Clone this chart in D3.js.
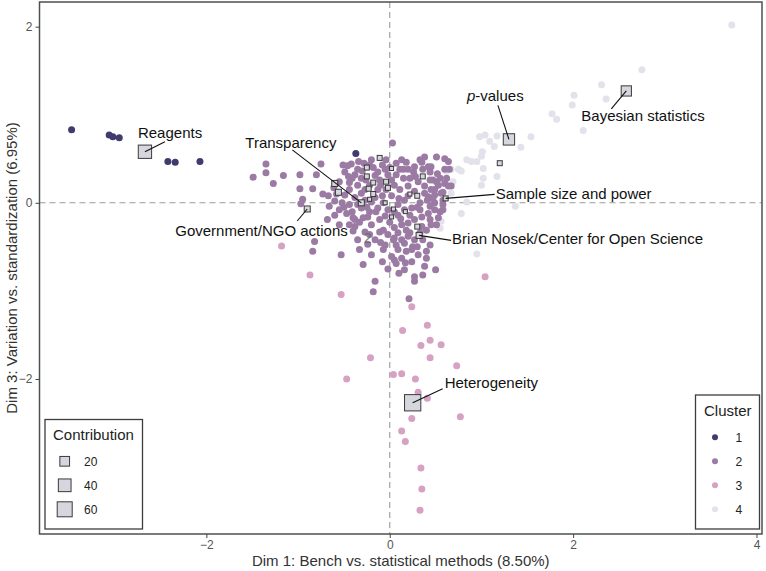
<!DOCTYPE html>
<html><head><meta charset="utf-8">
<script src="https://cdn.jsdelivr.net/npm/d3@7"></script>
<style>
body{margin:0;background:#fff;}
text{font-family:"Liberation Sans",Arial,Helvetica,sans-serif;}
</style>
</head><body>
<svg id="chart" width="766" height="571"></svg>
<script>
// ---------- DATA (Dim 1, Dim 3) ----------
const cluster1 = [[-3.47,0.83],[-3.06,0.77],[-3.02,0.75],[-2.95,0.74],[-2.42,0.47],[-2.34,0.46],[-2.07,0.47],[-0.37,0.56]];

const cluster2 = [
 [0.03,0.68],[-1.35,0.44],[-1.49,0.29],[-1.35,0.34],[-1.27,0.22],[-1.16,0.31],[-0.98,0.32],[-0.98,0.16],
 [-0.80,0.32],[-0.75,0.44],[-0.84,0.16],[-0.73,0.10],[-0.67,0.08],[-0.60,0.02],[-0.95,0.04],[-0.97,-0.01],
 [-0.66,-0.04],[-0.55,-0.08],[-0.47,-0.12],[-0.38,-0.19],[-0.44,-0.25],[-0.40,-0.17],[-0.29,-0.17],[-0.38,-0.27],
 [-0.82,-0.44],[-0.84,-0.55],[-0.53,-0.59],[-0.51,0.43],[-0.42,0.44],[-0.34,0.47],[-0.22,0.43],[-0.29,-0.70],
 [-0.16,-0.89],[-0.18,-1.01],[-0.07,-0.31],[0.04,-0.42],[0.07,-0.48],[0.16,-0.46],[0.25,-0.50],[0.22,-0.34],
 [0.40,-0.31],[0.51,-0.25],[0.44,-0.19],[-0.08,-0.67],[0.05,-0.65],[0.07,-0.69],[0.17,-0.68],[0.16,-0.76],
 [0.36,-0.82],[0.50,-0.76],[0.27,-0.89],[0.21,-1.09],
 [0.33,0.49],[0.42,0.41],[0.45,0.41],[0.60,0.50],[0.64,0.47],[0.60,0.38],[0.55,0.28],[0.47,0.26],
 [0.53,0.20],[0.64,0.19],[0.67,0.19],[0.56,0.11],[0.49,0.09],[0.42,0.07],[0.49,0.00],[0.58,-0.02],[0.44,-0.04],
 [0.07,0.45],[0.18,0.46],[0.27,0.41],[0.35,0.46],[0.44,0.26],[0.51,0.24],[0.60,0.22],[0.49,0.15],
 [0.38,0.11],[0.47,0.05],[0.58,-0.08],[0.49,-0.08],[0.42,-0.12],[0.35,-0.16],[0.53,-0.17],[0.27,-0.19],
 [0.20,-0.23],[0.13,-0.25],[0.35,-0.27],[0.18,-0.31],[0.09,-0.34],[0.20,-0.38],[0.27,-0.42],[0.13,-0.42],
 [0.09,-0.53],[-0.07,-0.53],[0.02,-0.61],[0.13,-0.63],[0.38,-0.72],[0.27,-0.84],
 [-0.49,0.35],[-0.41,0.28],[-0.35,0.38],[-0.28,0.45],[-0.20,0.49],[-0.04,0.49],[0.13,0.49],[0.26,0.35],
 [0.15,0.28],[0.07,0.32],[-0.13,0.35],[-0.35,0.20],[-0.44,0.15],[-0.49,0.09],[-0.38,0.06],[-0.31,0.11],
 [-0.16,0.31],[-0.08,0.08],[0.02,0.08],[0.11,0.15],[0.16,0.03],[0.09,-0.02],[-0.02,-0.08],[-0.13,-0.06],
 [-0.22,-0.10],[-0.31,-0.06],[-0.44,-0.02],[-0.11,-0.19],[-0.20,-0.25],[-0.27,-0.33],[-0.35,-0.42],[0.00,-0.22],
 [0.09,-0.14],[0.24,-0.06],[0.33,0.00],[0.38,0.19],[0.31,0.24],[0.20,0.19],[0.44,0.35],[-0.08,0.43],
 [-0.26,0.26],[-0.46,0.42],[-0.55,0.24],[-0.61,0.17],[-0.52,0.00],[-0.24,-0.47],[-0.16,-0.42],[-0.05,-0.48],
 [-0.33,-0.53],[-0.20,-0.59],[-0.11,0.26],[-0.02,0.32],[0.05,0.20],[0.22,-0.14],[0.33,-0.08],[0.41,0.03],
 [0.55,-0.10],[0.36,-0.42],[0.44,-0.48],[0.31,-0.59],[0.24,-0.67],[0.40,-0.63],[-0.02,-0.36],[-0.16,0.06],
 [-0.27,0.03],[-0.41,-0.10],[-0.33,-0.22],[-0.24,-0.16],[-0.55,-0.25],[-0.60,-0.14],[-0.68,-0.19],[0.38,0.52],
 [0.51,0.52],[0.65,0.38],[0.58,0.03],
 [-0.38,0.32],[-0.31,0.28],[-0.22,0.20],[-0.13,0.15],[-0.04,0.15],[0.02,0.26],[0.11,0.38],[0.22,0.28],
 [0.27,0.13],[0.16,-0.08],[0.05,-0.28],[-0.11,-0.33],[-0.27,0.15],[-0.44,0.23],[-0.35,-0.02],[-0.20,0.01],
 [-0.07,0.00],[0.33,-0.34],[0.24,-0.53],
 [-0.45,0.30],[-0.30,0.36],[-0.18,0.40],[-0.10,0.20],[0.00,0.40],[0.15,0.38],[0.20,0.08],[0.10,0.05],
 [0.05,-0.10],[0.12,-0.18],[-0.05,-0.15],[-0.15,-0.10],[-0.25,-0.05],[0.30,-0.05],[0.28,0.30],[0.36,0.38],
 [0.52,0.33],[0.58,0.12],[0.62,0.28],[0.45,-0.25],[0.30,-0.50],[0.05,-0.40],[-0.10,-0.45],[-0.22,-0.36],
 [-0.40,-0.32],[-0.50,-0.05],[-0.58,0.10],[0.40,-0.55],[0.18,-0.55],[-0.02,-0.75],[0.10,-0.80],[0.45,0.15],
 [0.20,0.38],[-0.05,0.38]
];

const cluster3 = [
 [-1.18,-0.49],[-0.87,-0.82],[-0.53,-1.04],[1.04,-0.84],[0.24,-1.18],[0.41,-1.39],[0.14,-1.45],[0.44,-1.56],
 [0.34,-1.62],[0.56,-1.61],[-0.21,-1.76],[0.44,-1.76],[0.73,-1.85],[0.04,-1.95],[0.13,-1.94],[-0.47,-2.00],
 [0.28,-2.00],[0.31,-2.15],[0.41,-2.22],[0.27,-2.23],[0.24,-2.45],[0.77,-2.43],[0.13,-2.59],[0.17,-2.71],
 [0.34,-3.01],[0.35,-3.25],[0.33,-3.49]
];

const cluster4 = [
 [3.73,2.02],[2.75,1.51],[2.31,1.34],[2.36,1.18],[2.01,1.22],[1.99,1.11],[1.77,1.01],[1.82,0.95],
 [2.11,0.82],[1.54,0.75],[1.43,0.63],[1.17,0.76],[1.09,0.70],[1.04,0.77],[0.98,0.75],[1.14,0.64],
 [1.01,0.58],[1.00,0.53],[0.84,0.49],[0.89,0.47],[0.95,0.47],[1.02,0.39],[1.17,0.30],[1.02,0.28],
 [1.00,0.20],[0.75,0.38],[0.69,0.24],[0.84,0.01],[0.78,-0.12],[1.37,-0.04],[0.56,-0.21],[0.55,-0.29],
 [0.95,-0.58],[0.67,0.38],[0.62,0.36],[0.78,0.36],[0.67,0.11]
];

// variable squares: name, dim1, dim3, contribution
const varNames = ["Reagents","p-values","Bayesian statistics","Heterogeneity","Transparency","Government/NGO actions","Sample size and power","Brian Nosek/Center for Open Science",
 "","","","","","","","","","","","","","","","","","","","",""];
const varDim1 = [-2.67,1.30,2.58,0.25,-0.31,-0.90,0.61,0.32,
 -0.11,0.02,-0.25,0.36,-0.25,-0.60,-0.18,-0.04,-0.56,-0.23,-0.02,-0.18,-0.22,-0.05,0.22,0.30,0.04,0.17,0.02,0.30,1.20];
const varDim3 = [0.58,0.72,1.27,-2.27,0.00,-0.07,0.05,-0.37,
 0.51,0.39,0.40,0.30,0.30,0.22,0.23,0.24,0.12,0.16,0.17,0.10,0.04,0.00,0.10,0.08,-0.07,-0.10,-0.16,-0.27,0.45];
const varContrib = [45,30,23,73,4.8,4.8,2.4,4.8,
 2.4,0.9,2.4,2.4,2.4,4.8,2.4,2.4,4.8,2.4,2.4,2.4,0.9,0.9,0.9,2.4,0.9,0.9,0.9,2.4,2.4];

const clusterLabels = ["1","2","3","4"];
const contribLegend = [20,40,60];
const xTicks = [-2,0,2,4];
const yTicks = [-2,0,2];
const centroidLabel = {text:"2", x:-0.24, y:-0.40};

// ---------- LAYOUT ----------
const panel = {l:39.5, r:762, t:2, b:534};
const colors = ["#3f3c6d","#9b7aa4","#d6a1c2","#e2e2eb"];
const FS = 15;

// label offsets (pixels) relative to the square: text start / baseline, leader end
const labelLayout = {
 "Reagents":{tx:-7,ty:-14,lx:20,ly:-10},
 "Transparency":{tx:-116,ty:-55,lx:-69,ly:-53},
 "Government/NGO actions":{tx:-132,ty:27,lx:-10,ly:12},
 "p-values":{tx:-42,ty:-38,lx:-11,ly:-34},
 "Bayesian statistics":{tx:-45,ty:30,lx:-15,ly:18},
 "Sample size and power":{tx:50,ty:1,lx:49,ly:-4},
 "Brian Nosek/Center for Open Science":{tx:33,ty:9,lx:32,ly:5},
 "Heterogeneity":{tx:32,ty:-15,lx:30,ly:-14}
};

const svg = d3.select("#chart");
const x = d3.scaleLinear().domain([-3.82,4.06]).range([panel.l,panel.r]);
const y = d3.scaleLinear().domain([-3.76,2.28]).range([panel.b,panel.t]);
const side = d3.scaleSqrt().domain([0,60]).range([2.47,15]);

// reference lines
svg.append("line").attr("x1",x(0)).attr("x2",x(0)).attr("y1",panel.t).attr("y2",panel.b)
  .attr("stroke","#9a9a9a").attr("stroke-width",1.1).attr("stroke-dasharray","6,4");
svg.append("line").attr("y1",y(0)).attr("y2",y(0)).attr("x1",panel.l).attr("x2",panel.r)
  .attr("stroke","#9a9a9a").attr("stroke-width",1.1).attr("stroke-dasharray","6,4");

// points
const clusters = [cluster1,cluster2,cluster3,cluster4];
const drawOrder = [3,2,1,0];
drawOrder.forEach(ci=>{
  svg.append("g").selectAll("circle").data(clusters[ci]).join("circle")
    .attr("cx",d=>x(d[0])).attr("cy",d=>y(d[1])).attr("r",3.5)
    .attr("fill",colors[ci]);
});

// centroid label
svg.append("text").attr("x",x(centroidLabel.x)).attr("y",y(centroidLabel.y)+5)
  .attr("text-anchor","middle").attr("font-size",14).attr("fill","#666").attr("opacity",0.85)
  .text(centroidLabel.text);

// squares
const vars = varNames.map((n,i)=>({name:n,x:varDim1[i],y:varDim3[i],c:varContrib[i]}));
svg.append("g").selectAll("rect").data(vars).join("rect")
  .attr("x",d=>x(d.x)-side(d.c)/2).attr("y",d=>y(d.y)-side(d.c)/2)
  .attr("width",d=>side(d.c)).attr("height",d=>side(d.c))
  .attr("fill","#d5d6de").attr("stroke","#3a3a3a").attr("stroke-width",1);

// labels with leader lines
const lab = svg.append("g");
vars.filter(d=>d.name).forEach(d=>{
  const L = labelLayout[d.name];
  const px = x(d.x), py = y(d.y);
  lab.append("line").attr("x1",px).attr("y1",py).attr("x2",px+L.lx).attr("y2",py+L.ly)
    .attr("stroke","#111").attr("stroke-width",1.1);
  const t = lab.append("text").attr("x",px+L.tx).attr("y",py+L.ty).attr("font-size",FS).attr("fill","#111");
  if(d.name==="p-values"){
    t.append("tspan").attr("font-style","italic").text("p");
    t.append("tspan").text("-values");
  } else t.text(d.name);
});

// panel border
svg.append("rect").attr("x",panel.l).attr("y",panel.t).attr("width",panel.r-panel.l).attr("height",panel.b-panel.t)
  .attr("fill","none").attr("stroke","#4d5050").attr("stroke-width",1.5);

// axes
const fmt = d3.format("d");
const xa = svg.append("g").attr("transform",`translate(0,${panel.b})`)
  .call(d3.axisBottom(x).tickValues(xTicks).tickFormat(fmt).tickSize(4).tickPadding(2));
const ya = svg.append("g").attr("transform",`translate(${panel.l},0)`)
  .call(d3.axisLeft(y).tickValues(yTicks).tickFormat(fmt).tickSize(4).tickPadding(3));
[xa,ya].forEach(a=>{
  a.select(".domain").remove();
  a.selectAll(".tick line").attr("stroke","#444");
  a.selectAll(".tick text").attr("fill","#555").attr("font-size",12)
   .attr("font-family","'Liberation Sans',Arial,sans-serif");
});

// axis titles
svg.append("text").attr("x",(panel.l+panel.r)/2).attr("y",566).attr("text-anchor","middle")
  .attr("font-size",FS).attr("fill","#333").text("Dim 1: Bench vs. statistical methods (8.50%)");
svg.append("text").attr("transform",`translate(17,${(panel.t+panel.b)/2}) rotate(-90)`).attr("text-anchor","middle")
  .attr("font-size",FS).attr("fill","#333").text("Dim 3: Variation vs. standardization (6.95%)");

// contribution legend
const lg1 = svg.append("g");
lg1.append("rect").attr("x",45).attr("y",419.5).attr("width",97.5).attr("height",109.5)
  .attr("fill","#fff").attr("stroke","#3d3d3d").attr("stroke-width",1.3);
lg1.append("text").attr("x",53).attr("y",440).attr("font-size",FS).attr("fill","#222").text("Contribution");
contribLegend.forEach((c,i)=>{
  const cy = 461.3 + i*24, s = side(c);
  lg1.append("rect").attr("x",64.7-s/2).attr("y",cy-s/2).attr("width",s).attr("height",s)
    .attr("fill","#d5d6de").attr("stroke","#3a3a3a").attr("stroke-width",1);
  lg1.append("text").attr("x",84).attr("y",cy+4.5).attr("font-size",12).attr("fill","#222").text(c);
});

// cluster legend
const lg2 = svg.append("g");
lg2.append("rect").attr("x",695.5).attr("y",395).attr("width",64).attr("height",134)
  .attr("fill","#fff").attr("stroke","#3d3d3d").attr("stroke-width",1.3);
lg2.append("text").attr("x",704).attr("y",416).attr("font-size",FS).attr("fill","#222").text("Cluster");
clusterLabels.forEach((c,i)=>{
  const cy = 437.3 + i*24;
  lg2.append("circle").attr("cx",715).attr("cy",cy).attr("r",3).attr("fill",colors[i]);
  lg2.append("text").attr("x",735.5).attr("y",cy+4.5).attr("font-size",12).attr("fill","#222").text(c);
});
</script>
</body></html>
